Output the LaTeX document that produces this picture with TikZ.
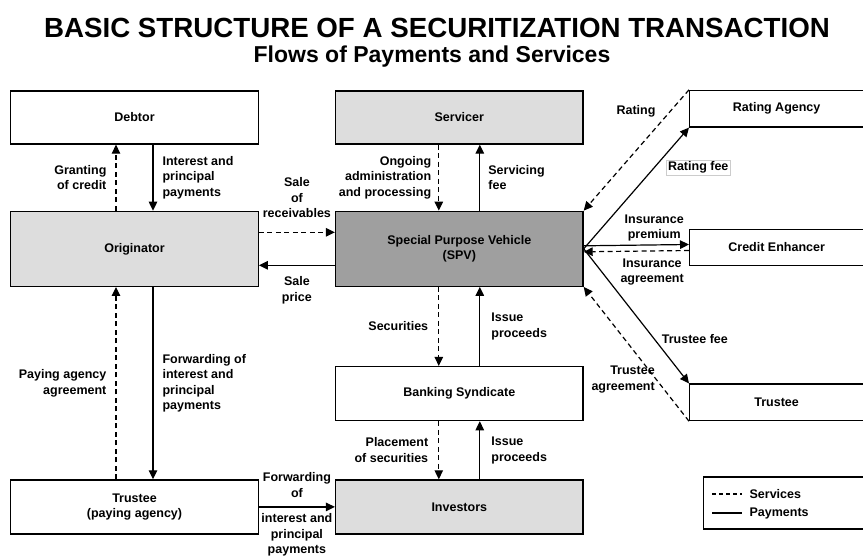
\documentclass[tikz,border=0pt]{standalone}
\usepackage{fontspec}
\setmainfont{Liberation Sans}
\usepackage{xcolor}
\usepackage{tikz}
\usetikzlibrary{positioning}
\usetikzlibrary{arrows.meta}

\begin{document}
\begin{tikzpicture}[
		x=1pt, y=1pt,
		node distance=66pt and 76pt,
		font=\fontsize{12.5}{15.5}\selectfont\bfseries,
		party/.style={rectangle, draw, line width=1.3pt, minimum width=247.5pt, minimum height=53pt, align=center},
		core/.style={party, fill=gray!27},
		outside/.style={rectangle, draw, line width=1.3pt, minimum width=180pt, minimum height=36.5pt, anchor=west, align=center},
		note/.style={inner sep=0pt, align=left},
		payment/.style={-{Triangle[length=9pt, width=8.5pt]}, line width=1.2pt},
		service/.style={payment, dash pattern=on 5pt off 3.5pt}
		]
		\useasboundingbox (0,0) rectangle (863,-556);
		
		% Heading
		\node[font=\fontsize{27.7}{32}\selectfont\bfseries] (title) at (437,-28) {BASIC STRUCTURE OF A SECURITIZATION TRANSACTION};
		\node[font=\fontsize{23}{27}\selectfont\bfseries] (subtitle) at (432,-57) {Flows of Payments and Services};
		
		% Left column
		\node[party] (debtor) at (134.5,-117.5) {Debtor};
		\node[core, minimum height=75pt, below=of debtor] (orig) {Originator};
		
		% Middle column
		\node[core, right=of debtor] (servicer) {Servicer};
		\node[core, fill=gray!75, minimum height=75pt, below=of servicer] (spv) {Special Purpose Vehicle\\(SPV)};
		\node[party, minimum height=54pt, below=79pt of spv] (banks) {Banking Syndicate};
		\node[core, minimum height=54pt, below=58pt of banks] (inv) {Investors};
		\node[party, minimum height=54pt, left=of inv] (payagent) {Trustee\\(paying agency)};
		
		% Right column
		\node[outside] (enhancer) at (689,-247.5) {\hspace*{-6pt}Credit Enhancer};
		\node[outside, above=101pt of enhancer.north west, anchor=south west] (rating) {\hspace*{-6pt}Rating Agency};
		\node[outside, below=117pt of enhancer.south west, anchor=north west] (trustee) {\hspace*{-6pt}Trustee};
		
		% Debtor and originator
		\draw[service] ([xshift=-18.5pt]orig.north) -- node[note, left=9pt, align=right] {Granting\\of credit} ([xshift=-18.5pt]debtor.south);
		\draw[payment] ([xshift=18.5pt]debtor.south) -- node[note, right=9pt] {Interest and\\principal\\payments} ([xshift=18.5pt]orig.north);
		
		% Originator and SPV
		\draw[service] ([yshift=16.5pt]orig.east) -- node[note, above=14pt, align=center] {Sale\\of\\receivables} ([yshift=16.5pt]spv.west);
		\draw[payment] ([yshift=-16.5pt]spv.west) -- node[note, below=11pt, align=center] {Sale\\price} ([yshift=-16.5pt]orig.east);
		
		% Servicer and SPV
		\draw[service] ([xshift=-20.5pt]servicer.south) -- node[note, left=7pt, align=right] {Ongoing\\administration\\and processing} ([xshift=-20.5pt]spv.north);
		\draw[payment] ([xshift=20.5pt]spv.north) -- node[note, right=8pt] {Servicing\\fee} ([xshift=20.5pt]servicer.south);
		
		% SPV and banking syndicate
		\draw[service] ([xshift=-20.5pt]spv.south) -- node[note, left=10pt, align=right] {Securities} ([xshift=-20.5pt]banks.north);
		\draw[payment] ([xshift=20.5pt]banks.north) -- node[note, right=11pt] {Issue\\proceeds} ([xshift=20.5pt]spv.south);
		
		% Banking syndicate and investors
		\draw[service] ([xshift=-20.5pt]banks.south) -- node[note, left=10pt, align=right] {Placement\\of securities} ([xshift=-20.5pt]inv.north);
		\draw[payment] ([xshift=20.5pt]inv.north) -- node[note, right=11pt] {Issue\\proceeds} ([xshift=20.5pt]banks.south);
		
		% Originator and paying agency
		\draw[service] ([xshift=-18.5pt]payagent.north) -- node[note, left=9pt, align=right] {Paying agency\\agreement} ([xshift=-18.5pt]orig.south);
		\draw[payment] ([xshift=18.5pt]orig.south) -- node[note, right=9pt] {Forwarding of\\interest and\\principal\\payments} ([xshift=18.5pt]payagent.north);
		\draw[payment] (payagent) -- node[note, above=9pt, align=center] {Forwarding\\of} node[note, below=6pt, align=center] {interest and\\principal\\payments} (inv);
		
		% SPV and outside parties
		\draw[service] (rating.north west) -- node[note, pos=0.18, left=14pt] {Rating} (spv.north east);
		\draw[payment] (spv.east) -- node[note, pos=0.67, right=12pt, draw=gray!40, line width=0.5pt, inner sep=1.5pt] {Rating fee} (rating.south west);
		\draw[payment] ([yshift=3pt]spv.east) -- node[note, pos=0.67, above=3pt, align=center] {Insurance\\premium} ([yshift=3pt]enhancer.west);
		\draw[service] ([yshift=-3pt]enhancer.west) -- node[note, pos=0.35, below=7pt, align=center] {Insurance\\agreement} ([yshift=-3pt]spv.east);
		\draw[payment] (spv.east) -- node[note, pos=0.67, right=7pt] {Trustee fee} (trustee.north west);
		\draw[service] (trustee.south west) -- node[note, pos=0.31, left=1pt, align=right] {Trustee\\agreement} (spv.south east);
		
		% Legend
		\node[rectangle, draw, line width=1.3pt, minimum width=170pt, minimum height=52pt, anchor=west] (legend) at (703,-503) {};
		\draw[line width=1.2pt, dash pattern=on 4pt off 3pt] ([xshift=9pt, yshift=9pt]legend.west) -- ++(30,0) node[note, right=7pt] {Services};
		\draw[line width=1.2pt] ([xshift=9pt, yshift=-10pt]legend.west) -- ++(30,0) node[note, right=7pt] {Payments};
		
	\end{tikzpicture}
\end{document}
